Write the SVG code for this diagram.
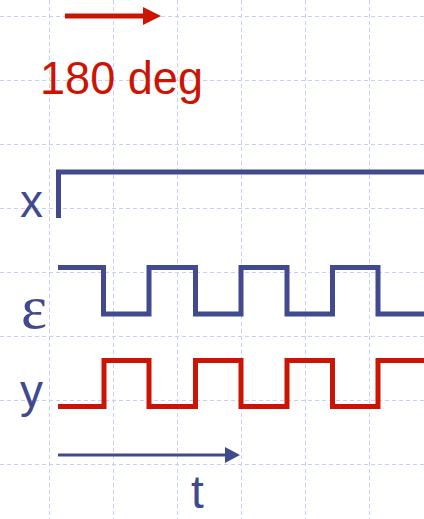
<svg xmlns="http://www.w3.org/2000/svg" width="424" height="519" viewBox="0 0 424 519">
<style>
.grid{stroke:#c6cff6;stroke-width:1;stroke-dasharray:4 3;fill:none}
.sig{fill:none;stroke-width:5;stroke-linejoin:miter;stroke-linecap:butt}
.blue{stroke:#414a8f}
.red{stroke:#cc1405}
.lbl{font-family:"Liberation Sans",Arial,sans-serif;font-size:46px;fill:#414a8f}
</style>
<defs>
<marker id="redHead" markerWidth="18" markerHeight="18" refX="0" refY="9" orient="auto" markerUnits="userSpaceOnUse">
<polygon points="0,0 18,9 0,18" fill="#cc1405"/>
</marker>
<marker id="blueHead" markerWidth="15" markerHeight="16" refX="0" refY="8" orient="auto" markerUnits="userSpaceOnUse">
<polygon points="0,0 15,8 0,16" fill="#414a8f"/>
</marker>
</defs>
<rect width="424" height="519" fill="#ffffff"/>
<g id="grid" class="grid">
<path d="M0 16.5H424M0 80.5H424M0 144.5H424M0 208.5H424M0 272.5H424M0 336.5H424M0 400.5H424M0 464.5H424"/>
<path d="M49.5 0V519M113.5 0V519M177.5 0V519M241.5 0V519M305.5 0V519M369.5 0V519"/>
</g>
<g id="phase">
<line x1="65" y1="16" x2="143" y2="16" stroke="#cc1405" stroke-width="5" marker-end="url(#redHead)"/>
<text x="40" y="94" font-family="'Liberation Sans',Arial,sans-serif" font-size="47" fill="#cc1405" textLength="163" lengthAdjust="spacingAndGlyphs">180 deg</text>
</g>
<g id="signal-x">
<text class="lbl" x="20" y="217">x</text>
<polyline class="sig blue" points="58.5,218 58.5,172 424,172"/>
</g>
<g id="signal-eps">
<text x="21" y="328" font-family="'Liberation Serif','Times New Roman',serif" font-size="62" fill="#414a8f">ε</text>
<polyline class="sig blue" points="58,267.5 103.5,267.5 103.5,314 149,314 149,267.5 195.5,267.5 195.5,314 241,314 241,267.5 287,267.5 287,314 332.5,314 332.5,267.5 378,267.5 378,314 424,314"/>
</g>
<g id="signal-y">
<text class="lbl" x="20" y="407">y</text>
<polyline class="sig red" points="58,406.5 104,406.5 104,360.5 149,360.5 149,406.5 195.5,406.5 195.5,360.5 241,360.5 241,406.5 287,406.5 287,360.5 332.5,360.5 332.5,406.5 378,406.5 378,360.5 424,360.5"/>
</g>
<g id="time-axis">
<line x1="58" y1="455" x2="225" y2="455" stroke="#414a8f" stroke-width="3" marker-end="url(#blueHead)"/>
<text class="lbl" x="191" y="508">t</text>
</g>
</svg>
